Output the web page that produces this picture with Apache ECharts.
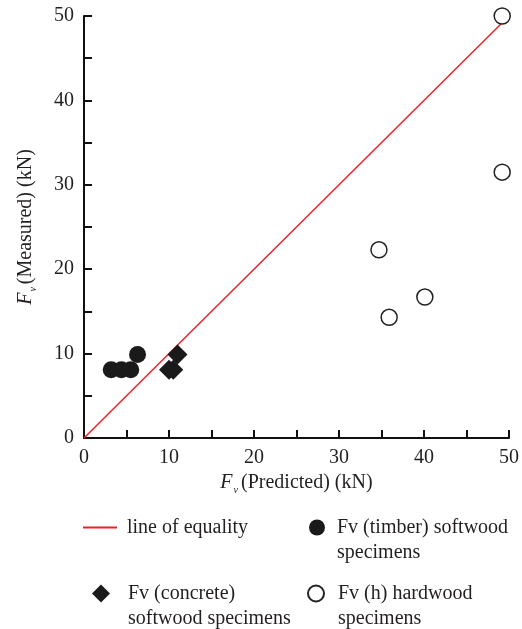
<!DOCTYPE html>
<html><head><meta charset="utf-8">
<script src="https://cdn.jsdelivr.net/npm/echarts@6/dist/echarts.min.js"></script>
<style>html,body{margin:0;padding:0;background:#fff}#c{width:522px;height:629px}</style>
</head><body><div id="c"></div>
<script>
const equalityX = [0, 49.2];
const equalityY = [0, 49.2];
const timberX = [3.2, 4.4, 5.5, 6.3];
const timberY = [8.1, 8.1, 8.1, 9.9];
const concreteX = [10.0, 10.5, 11.0];
const concreteY = [8.1, 8.1, 9.9];
const hardX = [49.2, 49.2, 34.7, 35.9, 40.1];
const hardY = [50, 31.5, 22.3, 14.3, 16.7];
const names = ['line of equality', 'Fv (timber) softwood\nspecimens', 'Fv (concrete)\nsoftwood specimens', 'Fv (h) hardwood\nspecimens'];

const FONT = 'Liberation Serif';
const FS = 20;
const LH = 25;
const zip = (a, b) => a.map((v, i) => [v, b[i]]);
const chart = echarts.init(document.getElementById('c'));
const titleRich = {
  i: {fontFamily: FONT, fontSize: FS, fontStyle: 'italic', color: '#231f20'},
  s: {fontFamily: FONT, fontSize: 10, fontStyle: 'italic', color: '#231f20', padding: [14, 3, 0, 1]},
  t: {fontFamily: FONT, fontSize: FS, color: '#231f20'}
};
const axisCommon = {
  type: 'value', min: 0, max: 50, interval: 5,
  axisLine: {show: true, onZero: false, lineStyle: {color: '#111', width: 2}},
  axisTick: {show: true, inside: true, length: 8, lineStyle: {color: '#111', width: 2}},
  splitLine: {show: false},
  axisLabel: {fontFamily: FONT, fontSize: FS, color: '#231f20', margin: 10,
    formatter: v => (v % 10 === 0 ? String(v) : '')},
  nameLocation: 'middle', nameTextStyle: {rich: titleRich}
};
const ts = pad => ({fontFamily: FONT, fontSize: FS, color: '#231f20', lineHeight: LH, padding: [0, 0, 0, pad]});
const twoLine = name => ' \n' + name;
chart.setOption({
  animation: false,
  grid: {left: 84, right: 9, top: 16, bottom: 191, containLabel: false},
  xAxis: Object.assign({}, axisCommon, {name: '{i|F}{s|v}{t|(Predicted) (kN)}', nameGap: 28}),
  yAxis: Object.assign({}, axisCommon, {name: '{i|F}{s|v}{t|(Measured) (kN)}', nameGap: 46}),
  legend: [
    {data: [{name: names[0], icon: 'rect'}], left: 83, top: 515, itemWidth: 34, itemHeight: 2, padding: 0, textStyle: ts(5), selectedMode: false},
    {data: [{name: names[1], icon: 'circle'}], left: 309, top: 490, itemWidth: 16, itemHeight: 16, padding: 0, textStyle: ts(7), formatter: twoLine, selectedMode: false},
    {data: [{name: names[2], icon: 'diamond'}], left: 92, top: 556, itemWidth: 18, itemHeight: 18, padding: 0, textStyle: ts(13), formatter: twoLine, selectedMode: false},
    {data: [{name: names[3], icon: 'circle'}], left: 307, top: 556, itemWidth: 16, itemHeight: 16, padding: 0, textStyle: ts(9), formatter: twoLine, selectedMode: false}
  ],
  series: [
    {name: names[0], type: 'line', data: zip(equalityX, equalityY), symbol: 'none',
      lineStyle: {color: '#e8242a', width: 1.5}, itemStyle: {color: '#e8242a'}, z: 1},
    {name: names[1], type: 'scatter', data: zip(timberX, timberY), symbol: 'circle', symbolSize: 17,
      itemStyle: {color: '#1a1a1a', opacity: 1}, clip: false, z: 3},
    {name: names[2], type: 'scatter', data: zip(concreteX, concreteY), symbol: 'diamond', symbolSize: 20,
      itemStyle: {color: '#1a1a1a', opacity: 1}, clip: false, z: 3},
    {name: names[3], type: 'scatter', data: zip(hardX, hardY), symbol: 'circle', symbolSize: 16,
      itemStyle: {color: '#fff', borderColor: '#222', borderWidth: 1.5, opacity: 1}, clip: false, z: 3}
  ]
});
</script></body></html>
